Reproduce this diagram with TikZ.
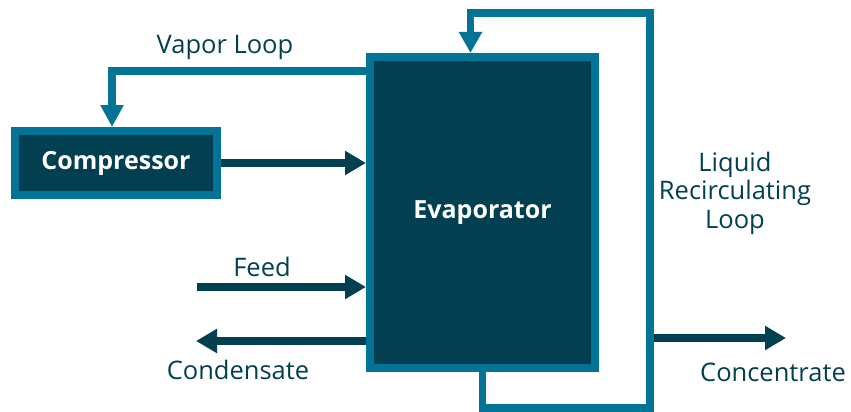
\documentclass[tikz,border=0pt]{standalone}
\usepackage{fontspec}
\setmainfont{Open Sans}
\usepackage{xcolor}
\usetikzlibrary{arrows.meta}
\definecolor{deep}{RGB}{2,63,81}
\definecolor{teal}{RGB}{3,115,150}

\tikzset{
  unit/.style={draw=teal, fill=deep, line width=8pt, text=white,
    font=\bfseries\fontsize{25}{30}\selectfont},
  flow/.style={draw=deep, line width=7.5pt,
    -{Triangle[length=21pt,width=23pt]}},
  loopline/.style={draw=teal, line width=7.5pt},
  lbl/.style={text=deep, font=\fontsize{25.5}{28.5}\selectfont, align=center}
}

\begin{document}
\begin{tikzpicture}[x=1pt, y=-1pt]
            \useasboundingbox (0,0) rectangle (851,412);

            \node[unit, minimum width=225pt, minimum height=311pt] (evap) at (482.5,212.5) {Evaporator};
            \node[unit, minimum width=202pt, minimum height=64pt] (comp) at (116,163) {Compressor};

            \coordinate (feedin) at (197,287);
            \coordinate (condout) at (196,341);
            \coordinate (junc) at (654,338);
            \coordinate (conc) at (786,338);

            % vapor loop
            \draw[loopline, -{Triangle[length=22pt,width=22pt]}] (evap.west |- 0,71) -| ([xshift=-4pt]comp.north);
            \node[lbl] (vapor) at (225,47) {Vapor Loop};

            % liquid recirculating loop
            \draw[loopline, -{Triangle[length=21pt,width=22pt]}]
                (evap.south) -- (evap.south |- 0,408) -| (650,13) -| ([xshift=-12pt]evap.north);
            \node[lbl] (liquid) at (735,193) {Liquid\\Recirculating\\Loop};

            \draw[flow] (comp.east) -- (evap.west |- comp.east);
            \draw[flow] (feedin) -- (evap.west |- feedin);
            \node[lbl] (feed) at (262,267) {Feed};
            \draw[flow] (evap.west |- condout) -- (condout);
            \node[lbl] (cond) at (238,370) {Condensate};
            \draw[flow] (junc) -- (conc);
            \node[lbl] (concl) at (773,372) {Concentrate};
        \end{tikzpicture}
\end{document}
